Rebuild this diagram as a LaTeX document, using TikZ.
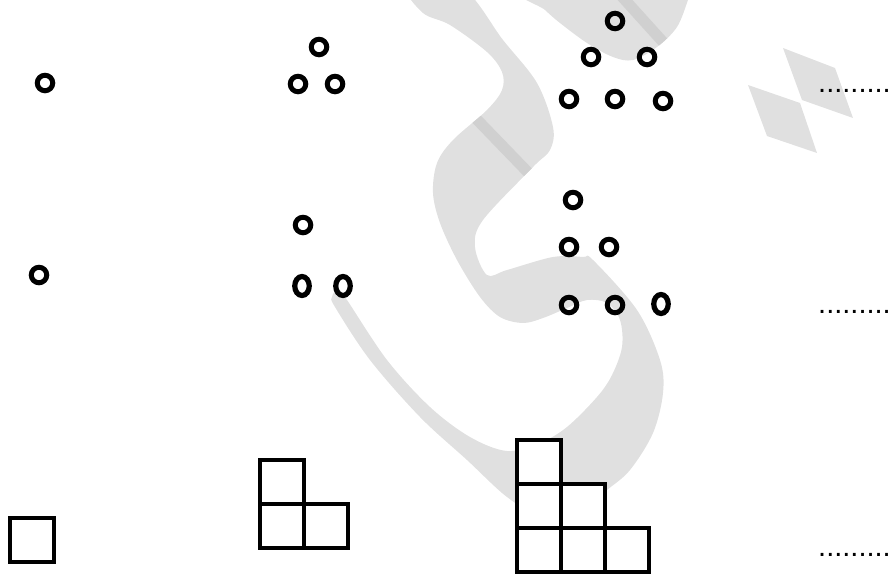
\documentclass[tikz,border=0pt]{standalone}
\usepackage{fontspec}
\setmainfont{Liberation Sans}
\usepackage{tikz}
\usetikzlibrary{shapes.geometric,positioning}
\definecolor{markgray}{RGB}{224,224,224}
\definecolor{markdark}{RGB}{208,208,208}

\begin{document}
\begin{tikzpicture}[
    x=1pt, y=-1pt,
    node distance=0pt and 0pt,
    ring/.style={draw, circle, line width=5pt, minimum size=15.5pt, inner sep=0pt},
    oval/.style={draw, ellipse, line width=5.2pt, minimum width=14.5pt, minimum height=19pt, inner sep=0pt},
    cell/.style={draw, rectangle, line width=4pt, minimum size=44pt, inner sep=0pt, outer sep=0pt, fill=white},
    blank/.style={anchor=base west, inner sep=0pt, font=\fontsize{29}{30}\selectfont},
]
\useasboundingbox (0,0) rectangle (890,573);
\clip (0,0) rectangle (890,573);

% ============ BACKGROUND MARK ============
\fill[markgray, path picture={\draw[markdark, line width=11pt] (460,102) -- (545,190);}]
  plot[smooth cycle, tension=0.55] coordinates {
    (408,-12) (423,13) (450,25) (487,52) (502,72) (502,90) (487,110) (453,140)
    (437,163) (433,193) (440,223) (457,260) (480,297) (500,317) (523,323) (543,318)
    (567,308) (587,300) (607,303) (620,320) (622,347) (612,375) (597,397) (567,427)
    (540,443) (507,451) (470,437) (430,407) (387,360) (347,300) (338,289) (332,297)
    (335,307) (370,360) (420,417) (467,460) (507,497) (540,515) (580,512) (607,490)
    (630,470) (653,433) (663,393) (660,360) (637,310) (593,260) (583,257) (553,257)
    (507,270) (487,275) (475,247) (483,220) (533,167) (550,150) (553,127) (537,83)
    (503,40) (462,-12)
  };
\fill[markgray, path picture={\draw[markdark, line width=11pt] (616,-10) -- (672,52);}]
  plot[smooth cycle, tension=0.55] coordinates {
    (522,-12) (545,10) (560,23) (587,43) (613,57) (633,60) (657,47) (677,27) (688,0) (692,-12)
  };
\fill[markgray] (783,48) -- (835,68) -- (853,118) -- (802,100) -- cycle;
\fill[markgray] (748,85) -- (800,103) -- (817,153) -- (767,136) -- cycle;

% ============ ROW 1: TRIANGLES OF RINGS ============
\node[ring] (a1) at (45,83) {};

\node[ring] (b1) at (319,47) {};
\node[ring] (b2) at (298,84) {};
\node[ring] (b3) at (335,84) {};

\node[ring] (c1) at (615,21) {};
\node[ring] (c2) at (591,57) {};
\node[ring] (c3) at (647,57) {};
\node[ring] (c4) at (569,99) {};
\node[ring] (c5) at (615,99) {};
\node[ring] (c6) at (663,101) {};

\node[blank] (dots1) at (818,92) {.........};

% ============ ROW 2: RINGS IN ROWS ============
\node[ring] (p1) at (39,275) {};

\node[ring] (q1) at (303,225) {};
\node[oval] (q2) at (302,286) {};
\node[oval] (q3) at (343,286) {};

\node[ring] (r1) at (573,200) {};
\node[ring] (r2) at (569,247) {};
\node[ring] (r3) at (609,247) {};
\node[ring] (r4) at (569,305) {};
\node[ring] (r5) at (615,305) {};
\node[oval] (r6) at (661,304) {};

\node[blank] (dots2) at (818,313.5) {.........};

% ============ ROW 3: STAIRS OF SQUARES ============
\node[cell] (s1) at (31.5,540) {};

\node[cell] (t1) at (282,526) {};
\node[cell, right=of t1] (t2) {};
\node[cell, above=of t1] (t3) {};

\node[cell] (u1) at (539,549.5) {};
\node[cell, right=of u1] (u2) {};
\node[cell, right=of u2] (u3) {};
\node[cell, above=of u1] (u4) {};
\node[cell, right=of u4] (u5) {};
\node[cell, above=of u4] (u6) {};

\node[blank] (dots3) at (818,556.5) {.........};

\end{tikzpicture}
\end{document}
